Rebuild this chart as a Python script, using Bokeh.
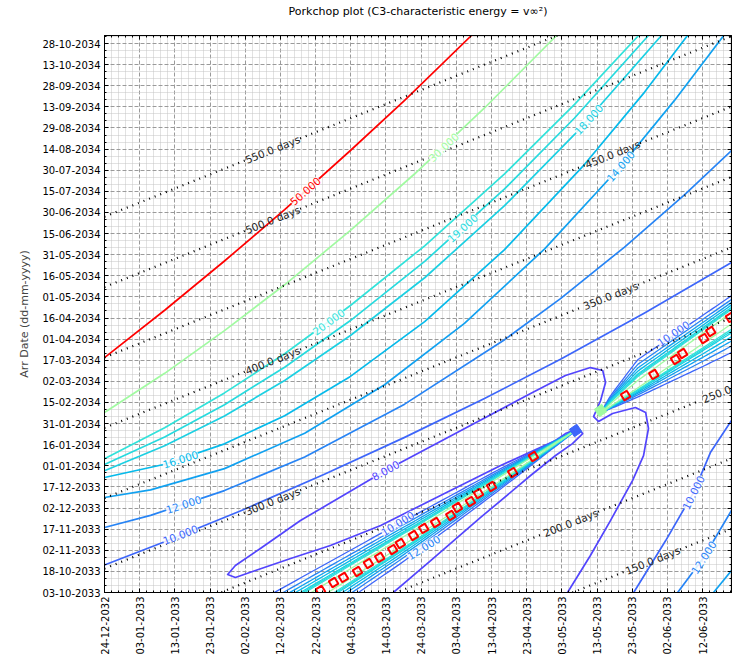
import numpy as np
from bokeh.plotting import figure
from bokeh.models import FixedTicker, LinearAxis, Range1d, ColumnDataSource
from bokeh.embed import file_html
from bokeh.resources import INLINE
from bokeh.core.properties import value

FONT = "DejaVu Sans"

# ---- axes: departure = days after 24-12-2032, arrival = days after 03-10-2033
DEP_MAX = 178.2
ARR_MAX = 395.7
ORIGIN_GAP = 283  # days from 24-12-2032 to 03-10-2033

x_tick_days = [0, 10, 20, 30, 40, 50, 60, 70, 80, 90, 100, 110, 120, 130, 140, 150, 160, 170]
x_tick_labels = ["24-12-2032", "03-01-2033", "13-01-2033", "23-01-2033", "02-02-2033",
                 "12-02-2033", "22-02-2033", "04-03-2033", "14-03-2033", "24-03-2033",
                 "03-04-2033", "13-04-2033", "23-04-2033", "03-05-2033", "13-05-2033",
                 "23-05-2033", "02-06-2033", "12-06-2033"]
y_tick_days = list(range(0, 391, 15))
y_tick_labels = ["03-10-2033", "18-10-2033", "02-11-2033", "17-11-2033", "02-12-2033",
                 "17-12-2033", "01-01-2034", "16-01-2034", "31-01-2034", "15-02-2034",
                 "02-03-2034", "17-03-2034", "01-04-2034", "16-04-2034", "01-05-2034",
                 "16-05-2034", "31-05-2034", "15-06-2034", "30-06-2034", "15-07-2034",
                 "30-07-2034", "14-08-2034", "29-08-2034", "13-09-2034", "28-09-2034",
                 "13-10-2034", "28-10-2034"]
x_minor = [d for d in range(0, 179, 2) if d % 10 != 0]
y_minor = [d for d in range(0, 396, 5) if d % 15 != 0]

TITLE = "Porkchop plot (C3-characteristic energy = v∞²)"

# ---- time of flight lines (days)
tof_levels = [150, 200, 250, 300, 350, 400, 450, 500, 550]
tof_label_dep = [155.8, 132.5, 174.0, 47.8, 143.8, 47.8, 144.4, 47.8, 47.8]
tof_label_text = ["150.0 days", "200.0 days", "250.0", "300.0 days", "350.0 days",
                  "400.0 days", "450.0 days", "500.0 days", "550.0 days"]
tof_label_gap = [7.8, 7.8, 4.6, 7.8, 7.8, 7.8, 7.8, 7.8, 7.8]

# ---- C3 contour colours (km^2/s^2)
level_colors = {8: "#5345fd", 10: "#3d66fa", 12: "#2784f5", 14: "#11a1f0", 16: "#06baea",
                18: "#1cd0e2", 19: "#27dade", 20: "#32e2da", 30: "#a1faa1", 50: "#ff0000"}

# ---- long-transfer family (upper left)
c50_dep = [0, 17.1, 34.1, 51.2, 69.9, 85.3, 104.3]
c50_arr = [166.9, 200.5, 235.5, 272.0, 314.0, 349.6, 395.7]
c30_dep = [0, 17.1, 34.1, 51.2, 69.9, 88.1, 108.0, 128.5]
c30_arr = [127.9, 155.7, 186.0, 218.6, 257.2, 297.3, 344.2, 395.7]
c20_dep = [0, 17.1, 34.1, 51.2, 69.9, 91.0, 113.7, 133.6, 151.8]
c20_arr = [95.0, 117.0, 141.8, 169.6, 203.9, 246.3, 297.4, 346.8, 395.7]
c19_dep = [0, 17.1, 34.1, 51.2, 69.9, 91.0, 113.7, 133.6, 154.6]
c19_arr = [91.0, 110.5, 133.4, 160.0, 193.2, 235.2, 286.7, 337.1, 395.7]
c18_dep = [0, 17.1, 34.1, 51.2, 69.9, 91.0, 113.7, 133.6, 158.3]
c18_arr = [86.5, 104.2, 125.4, 150.6, 182.6, 223.6, 274.8, 325.4, 395.7]
c16_dep = [0, 17.1, 34.1, 51.2, 69.9, 91.0, 113.7, 136.4, 153.5, 165.7]
c16_arr = [81.7, 91.1, 105.6, 125.6, 153.5, 192.4, 243.6, 304.0, 355.5, 395.7]
c14_dep = [0, 13.1, 34.1, 56.9, 79.6, 102.3, 125.1, 146.7, 162.0, 176.0]
c14_arr = [67.5, 72.9, 88.0, 113.2, 147.6, 191.2, 244.1, 302.8, 349.6, 395.7]
c12_dep = [0, 13.1, 34.1, 56.9, 85.3, 113.7, 129.6, 147.8, 164.9, 178.2]
c12_arr = [46.2, 54.8, 72.4, 96.3, 133.8, 179.6, 208.8, 245.4, 282.7, 314.0]
c10_dep = [0, 17.1, 39.8, 62.5, 85.3, 108.0, 129.6, 153.5, 178.2]
c10_arr = [19.5, 36.0, 59.2, 84.0, 110.2, 137.8, 165.7, 198.6, 234.4]

# ---- short-transfer family (lower right)
c10b_dep = [150.4, 159.5, 167.4, 172.2, 178.2]
c10b_arr = [0, 36.9, 71.0, 99.4, 122.2]
c12b_dep = [162.9, 170.3, 178.2]
c12b_arr = [0, 24.9, 58.3]
c14b_dep = [173.1, 178.2]
c14b_arr = [0, 15.6]

# ---- the 8 contour around the low-energy valley
c8_dep = [82.1, 92.7, 106.9, 121.1, 128.2, 133.0, 135.9, 134.7, 131.0, 128.2, 112.6, 95.5,
          78.5, 64.2, 52.9, 42.9, 37.2, 35.0, 37.2, 44.3, 55.7, 79.9, 104.0, 121.1, 131.0,
          138.1, 141.6, 142.4, 141.0, 139.0, 140.4, 144.4, 150.9, 153.8, 154.6, 153.2,
          150.1, 143.8, 138.1, 131.6]
c8_arr = [0, 22.7, 53.3, 83.1, 97.3, 105.8, 112.9, 116.5, 112.9, 108.0, 90.2, 68.9,
          47.6, 33.4, 24.2, 15.6, 10.7, 12.8, 19.2, 31.3, 51.1, 86.7, 118.6, 141.4, 154.2,
          159.8, 157.7, 149.2, 136.4, 125.0, 121.5, 127.2, 131.4, 127.9, 116.5, 97.3,
          79.6, 51.1, 26.3, 0]

# ---- 180-degree transfer ridges (crowded contours)
ridge_levels = [10, 12, 14, 16, 18, 19, 20, 30]
ridge_scale = [1.0, 0.82, 0.68, 0.56, 0.45, 0.4, 0.35, 0.2]
ridgeA_axis_dep = [41.5, 87.8, 134.7]
ridgeA_axis_arr = [-30.3, 41.2, 116.5]
ridgeA_s_up = [0, 22.2, 50.6, 91.0]
ridgeA_w_up = [0, 7.1, 14.2, 20.6]
ridgeA_s_lo = [0, 22.2, 50.6, 91.0]
ridgeA_w_lo = [0, 7.5, 15.0, 22.0]
ridgeB_axis_dep = [141.0, 189.3]
ridgeB_axis_arr = [127.5, 216.3]
ridgeB_s_up = [0, 2.8, 10.5, 37.5, 48.3]
ridgeB_w_up = [0, 7.1, 18.5, 14.9, 14.2]
ridgeB_s_lo = [0, 12.2, 28.4, 37.5, 48.3]
ridgeB_w_lo = [0, 9.2, 19.9, 25.6, 28.4]

# 50 contour islands on the ridges
dots_dep = [61.4, 65.1, 67.9, 71.9, 75.0, 78.2, 81.9, 84.1, 87.8, 90.7, 94.1, 98.4, 100.3,
            104.0, 106.3, 110.0, 116.0, 121.9, 148.1, 156.1, 162.3, 164.3, 170.3, 172.3, 177.9]
dots_arr = [1.4, 7.1, 10.7, 14.9, 20.6, 24.9, 30.5, 34.8, 40.5, 45.5, 49.7, 54.7, 60.4,
            64.6, 70.3, 75.3, 85.2, 96.6, 139.9, 154.9, 165.5, 169.8, 180.4, 185.4, 195.4]
tips_dep = [133.9, 141.0]
tips_arr = [115.1, 129.3]
tips_color = ["#3d66fa", "#a1faa1"]

# ---- contour labels: text, dep, arr, angle (deg on screen), level
clabel_text = ["50.000", "30.000", "20.000", "19.000", "18.000", "14.000", "16.000",
               "12.000", "10.000", "8.000", "10.000", "12.000", "10.000", "12.000", "10.000"]
clabel_dep = [57.1, 96.4, 63.7, 101.8, 137.6, 146.7, 21.6, 22.5, 21.6, 79.9, 167.4, 170.3,
              83.3, 90.7, 161.7]
clabel_arr = [285.1, 316.3, 192.3, 258.9, 336.1, 302.8, 94.5, 62.5, 41.0, 86.7, 71.0, 24.9,
              49.0, 32.0, 184.0]
clabel_angle = [41.6, 43, 36.3, 42, 47.5, 49.4, 17.5, 18, 21, 29, 63, 57, 32, 32, 34]
clabel_level = [50, 30, 20, 19, 18, 14, 16, 12, 10, 8, 10, 12, 10, 12, 10]

# ================= figure =================
p = figure(width=747, height=663, x_range=Range1d(0, DEP_MAX), y_range=Range1d(0, ARR_MAX),
           output_backend="svg", toolbar_location=None,
           min_border_left=104, min_border_right=16, min_border_top=35, min_border_bottom=71,
           background_fill_color="white", border_fill_color="white")
p.title.visible = False
p.outline_line_color = "black"
p.outline_line_width = 1


def style_axis(ax, ticks, minor, labels):
    ax.ticker = FixedTicker(ticks=ticks, minor_ticks=minor)
    ax.major_tick_in = 4
    ax.major_tick_out = 0
    ax.minor_tick_in = 2
    ax.minor_tick_out = 0
    ax.axis_line_color = "black"
    ax.major_tick_line_color = "black"
    ax.minor_tick_line_color = "black"
    if labels is not None:
        ax.major_label_overrides = {t: l for t, l in zip(ticks, labels)}
        ax.major_label_text_font = FONT
        ax.major_label_text_font_size = "10px"
        ax.major_label_text_color = "black"
        ax.major_label_standoff = 4
    else:
        ax.major_label_text_font_size = "1px"
        ax.major_label_text_color = None
        ax.major_label_standoff = 0


style_axis(p.xaxis[0], x_tick_days, x_minor, x_tick_labels)
p.xaxis[0].major_label_orientation = np.pi / 2
style_axis(p.yaxis[0], y_tick_days, y_minor, y_tick_labels)
p.yaxis[0].axis_label = "Arr Date (dd-mm-yyyy)"
p.yaxis[0].axis_label_text_font = FONT
p.yaxis[0].axis_label_text_font_size = "11px"
p.yaxis[0].axis_label_text_font_style = "normal"
p.yaxis[0].axis_label_standoff = 8

# top axis carries the title text
top_ax = LinearAxis()
style_axis(top_ax, x_tick_days, x_minor, None)
top_ax.axis_label = TITLE
top_ax.axis_label_text_font = FONT
top_ax.axis_label_text_font_size = "11px"
top_ax.axis_label_text_font_style = "normal"
top_ax.axis_label_text_color = "black"
top_ax.axis_label_standoff = 18
p.add_layout(top_ax, "above")
right_ax = LinearAxis()
style_axis(right_ax, y_tick_days, y_minor, None)
p.add_layout(right_ax, "right")

p.xgrid.ticker = FixedTicker(ticks=x_tick_days, minor_ticks=x_minor)
p.ygrid.ticker = FixedTicker(ticks=y_tick_days, minor_ticks=y_minor)
for g in (p.xgrid, p.ygrid):
    g.grid_line_color = "#9a9a9a"
    g.grid_line_dash = "4 2"
    g.grid_line_width = 1
    g.minor_grid_line_color = "#c4c4c4"
    g.minor_grid_line_dash = "1 1"
    g.minor_grid_line_width = 1

LW = 1.7

# family contours
for lev, d, a in [(50, c50_dep, c50_arr), (30, c30_dep, c30_arr), (20, c20_dep, c20_arr),
                  (19, c19_dep, c19_arr), (18, c18_dep, c18_arr), (16, c16_dep, c16_arr),
                  (14, c14_dep, c14_arr), (12, c12_dep, c12_arr), (10, c10_dep, c10_arr),
                  (10, c10b_dep, c10b_arr), (12, c12b_dep, c12b_arr), (14, c14b_dep, c14b_arr),
                  (8, c8_dep, c8_arr)]:
    p.line(d, a, line_color=level_colors[lev], line_width=LW, line_join="round")


def ridge(ax_dep, ax_arr, tip_dep, direction, s_up, w_up, s_lo, w_lo, scale):
    s_max = max(s_up[-1], s_lo[-1])
    s = np.linspace(0, s_max, 60)
    d = tip_dep + direction * s
    a = np.interp(d, ax_dep, ax_arr)
    up = a + scale * np.interp(s, s_up, w_up)
    lo = a - scale * np.interp(s, s_lo, w_lo)
    xs = list(d[::-1]) + list(d[1:])
    ys = list(up[::-1]) + list(lo[1:])
    return xs, ys


for lev, sc in zip(ridge_levels, ridge_scale):
    xs, ys = ridge(ridgeA_axis_dep, ridgeA_axis_arr, ridgeA_axis_dep[-1], -1,
                   ridgeA_s_up, ridgeA_w_up, ridgeA_s_lo, ridgeA_w_lo, sc)
    p.line(xs, ys, line_color=level_colors[lev], line_width=1.3)
    xs, ys = ridge(ridgeB_axis_dep, ridgeB_axis_arr, ridgeB_axis_dep[0], 1,
                   ridgeB_s_up, ridgeB_w_up, ridgeB_s_lo, ridgeB_w_lo, sc)
    p.line(xs, ys, line_color=level_colors[lev], line_width=1.3)

p.scatter(tips_dep, tips_arr, marker="square", size=9, angle=0.6, fill_color=tips_color,
          line_color=tips_color, line_width=1)
p.scatter(dots_dep, dots_arr, marker="square", size=7, angle=0.55, fill_color=None,
          line_color="red", line_width=2)

# time of flight dotted lines with gaps for labels
tl_x, tl_y = [], []
for tof, c, gap in zip(tof_levels, tof_label_dep, tof_label_gap):
    for lo, hi in [(0, c - gap), (c + gap, DEP_MAX + 5)]:
        if hi > lo:
            p.line([lo, hi], [lo + tof - ORIGIN_GAP, hi + tof - ORIGIN_GAP],
                   line_color="black", line_width=2.2, line_dash="1 5")
    tl_x.append(c)
    tl_y.append(c + tof - ORIGIN_GAP)

p.text(x=tl_x, y=tl_y, text=tof_label_text, angle=0.3805, text_font=value(FONT),
       text_font_size=value("10.5px"), text_color="#222222", text_align="center",
       text_baseline="middle")

src = ColumnDataSource(dict(x=clabel_dep, y=clabel_arr, text=clabel_text,
                            angle=[np.deg2rad(v) for v in clabel_angle],
                            color=[level_colors[l] for l in clabel_level]))
p.text(x="x", y="y", text="text", angle="angle", text_color="color", source=src,
       text_font=value(FONT), text_font_size=value("10.5px"), text_align="center",
       text_baseline="middle", background_fill_color="white", background_fill_alpha=0.85)

open("out.html", "w").write(file_html(p, INLINE))
